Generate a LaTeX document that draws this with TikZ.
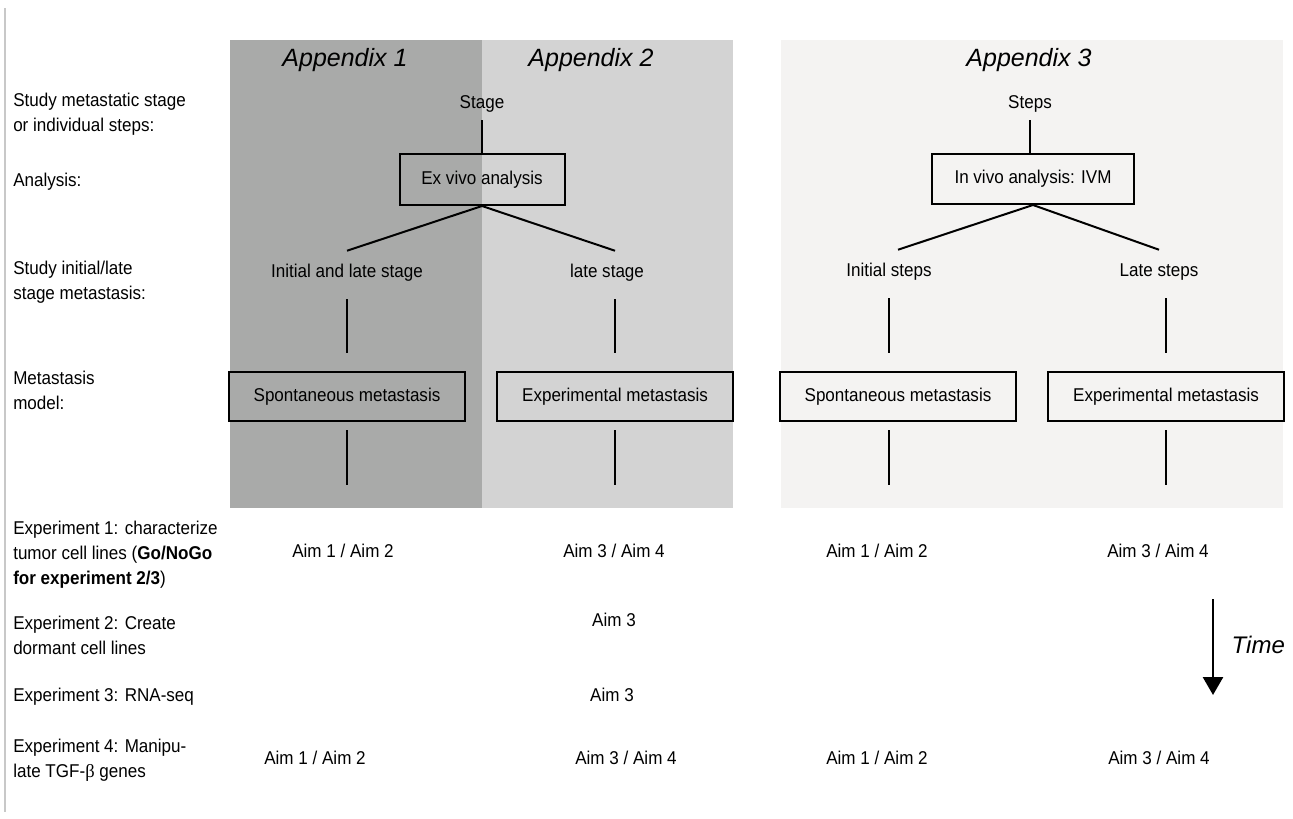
\documentclass[tikz,border=0pt]{standalone}
\usepackage{fontspec}
\setmainfont{Liberation Sans}[FakeStretch=0.92]
\newfontfamily\titlefont{Liberation Sans Italic}
\newfontfamily\greekfont{Liberation Serif}
\usepackage{amsmath}
\usepackage{tikz}
\usetikzlibrary{calc}
\usetikzlibrary{arrows.meta}
\definecolor{appone}{RGB}{169,170,169}
\definecolor{apptwo}{RGB}{211,211,211}
\definecolor{appthree}{RGB}{244,243,242}
\definecolor{sideline}{RGB}{200,200,200}

\begin{document}
\begin{tikzpicture}[x=0.75pt, y=-0.75pt, font=\fontsize{13.9}{18.75}\selectfont]
  \tikzset{myline/.style={line width=1.5pt}}
  \tikzset{mybox/.style={draw=black, line width=1.5pt, inner sep=0pt, minimum width=177pt, minimum height=36.75pt}}
  \tikzset{mytext/.style={inner sep=0pt, text height=9.5pt, text depth=2.5pt}}
  \tikzset{mylabel/.style={anchor=west, align=left, inner sep=0pt}}
  \tikzset{mytitle/.style={font=\titlefont\fontsize{18.75}{22}\selectfont}}

  \useasboundingbox (0,0) rectangle (1293,818);
  \fill[appone] (230,40) rectangle (482,508);
  \fill[apptwo] (482,40) rectangle (733,508);
  \fill[appthree] (781,40) rectangle (1283,508);
  \draw[sideline, line width=1.5pt] (5,8) -- (5,812);

  \node[mytitle] (app1) at (345,60) {Appendix 1};
  \node[mytitle] (app2) at (591,60) {Appendix 2};
  \node[mytitle] (app3) at (1029,60) {Appendix 3};

  \node[mylabel] (lblstage) at (13,114.5) {Study metastatic stage\\or individual steps:};
  \node[mylabel] (lblanalysis) at (13,182) {Analysis:};
  \node[mylabel] (lblinit) at (13,282) {Study initial/late\\stage metastasis:};
  \node[mylabel] (lblmodel) at (13,390) {Metastasis\\model:};
  \node[mylabel] (lblexpone) at (13,555) {Experiment 1: characterize\\tumor cell lines (\textbf{Go/NoGo}\\\textbf{for experiment 2/3})};
  \node[mylabel] (lblexptwo) at (13,635) {Experiment 2: Create\\dormant cell lines};
  \node[mylabel] (lblexpthree) at (13,697) {Experiment 3: RNA-seq};
  \node[mylabel] (lblexpfour) at (13,760) {Experiment 4: Manipu-\\late TGF-{\greekfont β} genes};

  \node[mytext] (stage) at (482,104) {Stage};
  \node[mytext] (steps) at (1030,104) {Steps};
  \node[mybox, minimum width=123.75pt, minimum height=38.25pt] (exvivo) at (482,179.5) {Ex vivo analysis};
  \node[mybox, minimum width=151.5pt, minimum height=37.5pt] (invivo) at (1033,179) {In vivo analysis: IVM};

  \node[mytext] (initlate) at (347,273) {Initial and late stage};
  \node[mytext] (late) at (607,273) {late stage};
  \node[mytext] (initsteps) at (889,272) {Initial steps};
  \node[mytext] (latesteps) at (1159,272) {Late steps};

  \node[mybox] (spont1) at (347,396.5) {Spontaneous metastasis};
  \node[mybox] (expt1) at (615,396.5) {Experimental metastasis};
  \node[mybox] (spont2) at (898,396.5) {Spontaneous metastasis};
  \node[mybox] (expt2) at (1166,396.5) {Experimental metastasis};

  \coordinate (end1) at (347,485);
  \coordinate (end2) at (615,485);
  \coordinate (end3) at (889,485);
  \coordinate (end4) at (1166,485);

  \node[mytext] (aimA1) at (343,553) {Aim 1 / Aim 2};
  \node[mytext] (aimA2) at (614,553) {Aim 3 / Aim 4};
  \node[mytext] (aimA3) at (877,553) {Aim 1 / Aim 2};
  \node[mytext] (aimA4) at (1158,553) {Aim 3 / Aim 4};
  \node[mytext] (aimB2) at (614,622) {Aim 3};
  \node[mytext] (aimC2) at (612,697) {Aim 3};
  \node[mytext] (aimD1) at (315,760) {Aim 1 / Aim 2};
  \node[mytext] (aimD2) at (626,760) {Aim 3 / Aim 4};
  \node[mytext] (aimD3) at (877,760) {Aim 1 / Aim 2};
  \node[mytext] (aimD4) at (1159,760) {Aim 3 / Aim 4};

  \draw[myline, shorten <=6pt] (stage.south) -- (exvivo.north);
  \draw[myline, shorten <=6pt] (steps.south) -- (steps.south |- invivo.north);

  \draw[myline] (exvivo.south) -- ($(initlate.north)+(0,-14)$);
  \draw[myline] (exvivo.south) -- ($(late.north -| expt1.north)+(0,-14)$);
  \draw[myline] (invivo.south) -- ($(initsteps.north -| spont2.north)+(0,-14)$);
  \draw[myline] (invivo.south) -- ($(latesteps.north)+(0,-14)$);

  \draw[myline, shorten <=13.5pt, shorten >=13.5pt] (initlate.south) -- (initlate.south |- spont1.north);
  \draw[myline, shorten <=13.5pt, shorten >=13.5pt] (late.south -| expt1.north) -- (expt1.north);
  \draw[myline, shorten <=13.5pt, shorten >=13.5pt] (initsteps.south) -- (initsteps.south |- spont2.north);
  \draw[myline, shorten <=13.5pt, shorten >=13.5pt] (latesteps.south -| expt2.north) -- (expt2.north);

  \draw[myline, shorten <=6pt] (spont1.south) -- (end1);
  \draw[myline, shorten <=6pt] (expt1.south) -- (end2);
  \draw[myline, shorten <=6pt] (end3 |- spont2.south) -- (end3);
  \draw[myline, shorten <=6pt] (expt2.south) -- (end4);

  \coordinate (tstart) at (1213,599);
  \coordinate (tend) at (1213,695);
  \draw[-{Triangle[width=15pt,length=13.5pt]}, line width=2pt] (tstart) -- (tend);
  \node[anchor=west, font=\titlefont\fontsize{18}{20}\selectfont] (time) at (1227,645) {Time};
\end{tikzpicture}
\end{document}
